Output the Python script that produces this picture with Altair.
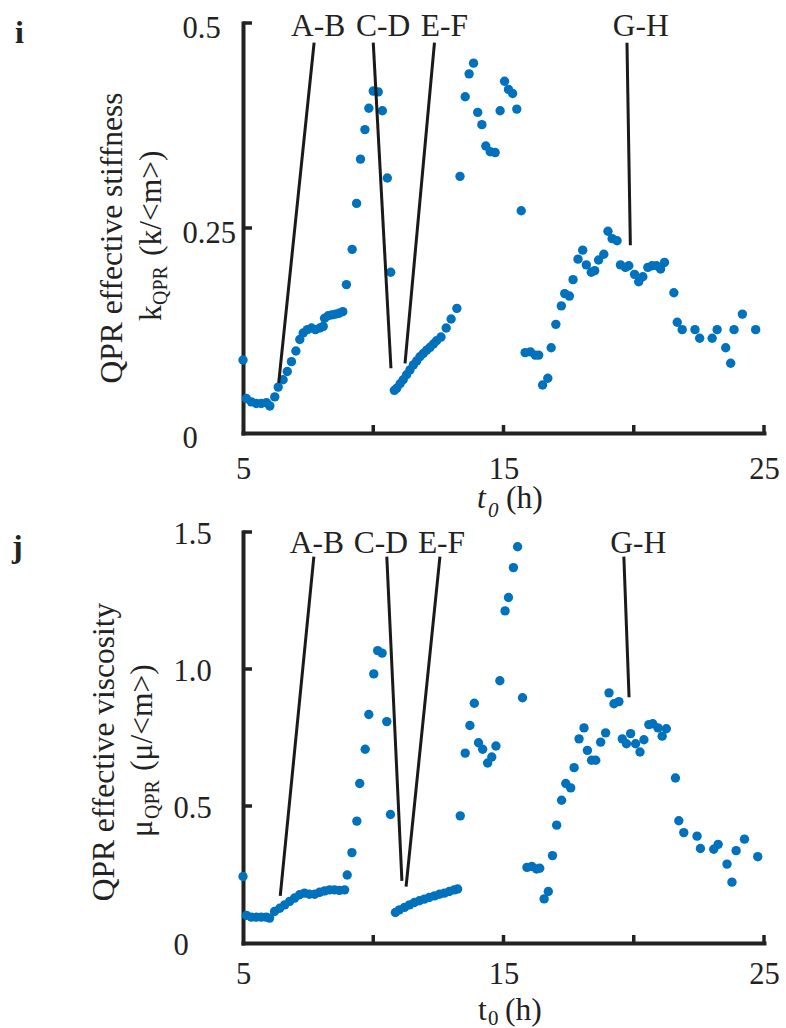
import altair as alt
import pandas as pd

# ---------------- data ----------------
t_k = [5.00, 5.13, 5.32, 5.51, 5.70, 5.90, 6.03, 6.22, 6.35, 6.54, 6.70, 6.86, 7.03, 7.18,
       7.31, 7.47, 7.63, 7.78, 7.95, 8.08, 8.13, 8.27, 8.41, 8.55, 8.69, 8.83, 8.97, 9.19,
       9.36, 9.51, 9.68, 9.83, 10.00, 10.19, 10.35, 10.54, 10.67, 10.81, 10.90, 11.03, 11.15,
       11.28, 11.41, 11.54, 11.67, 11.79, 11.92, 12.05, 12.18, 12.31, 12.43, 12.60, 12.80,
       12.99, 13.21, 13.33, 13.53, 13.68, 13.85, 14.01, 14.17, 14.32, 14.49, 14.68, 14.87,
       15.04, 15.19, 15.35, 15.51, 15.68, 15.83, 16.03, 16.22, 16.35, 16.50, 16.70, 16.83,
       17.01, 17.22, 17.35, 17.53, 17.67, 17.86, 18.04, 18.18, 18.37, 18.50, 18.65, 18.85,
       19.01, 19.17, 19.36, 19.49, 19.68, 19.81, 20.03, 20.19, 20.35, 20.54, 20.70, 20.87,
       21.03, 21.18, 21.54, 21.67, 21.86, 22.35, 22.53, 23.01, 23.20, 23.53, 23.72, 23.85,
       24.17, 24.68]
k_qpr = [0.089, 0.042, 0.038, 0.036, 0.036, 0.037, 0.033, 0.044, 0.056, 0.065, 0.075, 0.087,
         0.100, 0.114, 0.122, 0.126, 0.128, 0.126, 0.128, 0.130, 0.140, 0.143, 0.144, 0.145,
         0.146, 0.148, 0.181, 0.224, 0.280, 0.334, 0.370, 0.396, 0.417, 0.416, 0.393, 0.311,
         0.196, 0.052, 0.0545, 0.060, 0.065, 0.071, 0.077, 0.083, 0.088, 0.093, 0.097, 0.101,
         0.1045, 0.1085, 0.1125, 0.117, 0.128, 0.139, 0.152, 0.313, 0.410, 0.438, 0.451,
         0.391, 0.376, 0.350, 0.343, 0.342, 0.393, 0.429, 0.419, 0.414, 0.395, 0.271, 0.098,
         0.099, 0.095, 0.095, 0.0585, 0.0667, 0.104, 0.1325, 0.155, 0.170, 0.167, 0.187,
         0.212, 0.223, 0.205, 0.196, 0.198, 0.211, 0.218, 0.246, 0.237, 0.2345, 0.205, 0.202,
         0.204, 0.1935, 0.1845, 0.1906, 0.202, 0.204, 0.204, 0.200, 0.208, 0.171, 0.135,
         0.126, 0.126, 0.1155, 0.1155, 0.126, 0.104, 0.085, 0.126, 0.145, 0.126]

t_mu = [5.00, 5.13, 5.32, 5.51, 5.70, 5.89, 6.02, 6.21, 6.41, 6.60, 6.79, 6.98, 7.17, 7.36,
        7.55, 7.75, 7.94, 8.13, 8.32, 8.51, 8.70, 8.90, 9.00, 9.18, 9.37, 9.48, 9.69, 9.83,
        10.02, 10.17, 10.34, 10.52, 10.66, 10.85, 11.00, 11.20, 11.39, 11.58, 11.77, 11.96,
        12.15, 12.35, 12.54, 12.73, 12.92, 13.11, 13.24, 13.34, 13.53, 13.71, 13.88, 14.04,
        14.20, 14.39, 14.55, 14.71, 14.86, 15.06, 15.19, 15.38, 15.54, 15.73, 15.90, 16.09,
        16.27, 16.39, 16.56, 16.72, 16.88, 17.04, 17.23, 17.39, 17.58, 17.71, 17.90, 18.09,
        18.22, 18.38, 18.54, 18.73, 18.92, 19.05, 19.24, 19.43, 19.56, 19.72, 19.88, 20.07,
        20.24, 20.39, 20.58, 20.73, 20.93, 21.09, 21.25, 21.60, 21.73, 21.92, 22.43, 22.56,
        23.07, 23.24, 23.58, 23.77, 23.93, 24.25, 24.76]
mu_qpr = [0.2425, 0.1007, 0.0945, 0.0945, 0.0945, 0.0945, 0.091, 0.115, 0.127, 0.139, 0.152,
          0.164, 0.176, 0.182, 0.178, 0.178, 0.185, 0.190, 0.194, 0.194, 0.192, 0.194, 0.248,
          0.330, 0.445, 0.582, 0.707, 0.834, 0.982, 1.067, 1.058, 0.808, 0.469, 0.1115, 0.121,
          0.130, 0.139, 0.148, 0.154, 0.160, 0.166, 0.172, 0.178, 0.182, 0.188, 0.194, 0.197,
          0.464, 0.693, 0.794, 0.875, 0.731, 0.707, 0.657, 0.679, 0.719, 0.957, 1.212, 1.261,
          1.370, 1.446, 0.895, 0.276, 0.279, 0.270, 0.273, 0.161, 0.188, 0.319, 0.430, 0.521,
          0.582, 0.566, 0.640, 0.745, 0.785, 0.703, 0.667, 0.667, 0.733, 0.767, 0.913, 0.873,
          0.881, 0.745, 0.727, 0.764, 0.727, 0.697, 0.742, 0.797, 0.800, 0.785, 0.755, 0.782,
          0.602, 0.446, 0.403, 0.390, 0.345, 0.342, 0.360, 0.288, 0.222, 0.337, 0.379, 0.315]

x_ticks = [5, 10, 15, 20, 25]
x_tick_labels = ["5", "", "15", "", "25"]
k_ticks = [0, 0.25, 0.5]
k_tick_labels = ["0", "0.25", "0.5"]
mu_ticks = [0, 0.5, 1.0, 1.5]
mu_tick_labels = ["0", "0.5", "1.0", "1.5"]

event_labels = ["A-B", "C-D", "E-F", "G-H"]
# annotation text anchors
k_lab_t = [7.88, 10.38, 12.73, 20.27]
k_lab_v = [0.484, 0.484, 0.484, 0.484]
mu_lab_t = [7.84, 10.29, 12.62, 20.17]
mu_lab_v = [1.425, 1.425, 1.425, 1.425]
# annotation leader lines (top end -> bottom end)
k_line_t1 = [7.73, 10.00, 12.35, 19.74]
k_line_v1 = [0.476, 0.476, 0.476, 0.476]
k_line_t2 = [6.37, 10.68, 11.22, 19.87]
k_line_v2 = [0.061, 0.079, 0.085, 0.229]
mu_line_t1 = [7.72, 10.52, 12.56, 19.62]
mu_line_v1 = [1.41, 1.41, 1.41, 1.41]
mu_line_t2 = [6.43, 11.10, 11.26, 19.82]
mu_line_v2 = [0.172, 0.2265, 0.206, 0.897]

# ---------------- style ----------------
FONT = "Liberation Serif"
INK = "#222222"
BLUE = "#0072BD"
W = 521
H_TOP = 410
H_BOT = 411
FS = 31.5
LFS = 30.5
SFS = 20


def label_expr(values, labels):
    expr = "''"
    for v, l in zip(values, labels):
        expr = f"(abs(datum.value - {v}) < 1e-9) ? '{l}' : ({expr})"
    return expr


def xenc(field, pad):
    return alt.X(field, type="quantitative",
                 scale=alt.Scale(domain=[5, 25], nice=False, zero=False),
                 axis=alt.Axis(values=x_ticks, labelExpr=label_expr(x_ticks, x_tick_labels),
                               ticks=False, grid=False, title=None, domainWidth=4,
                               domainColor=INK, domainCap="square", labelFont=FONT,
                               labelFontSize=LFS, labelColor=INK, labelPadding=pad,
                               labelFlush=False, labelOverlap=False))


def yenc(field, dmax, vals, labs, pad, off):
    return alt.Y(field, type="quantitative",
                 scale=alt.Scale(domain=[0, dmax], nice=False, zero=False),
                 axis=alt.Axis(values=vals, labelExpr=label_expr(vals, labs),
                               ticks=False, grid=False, title=None, domainWidth=4,
                               domainColor=INK, domainCap="square", labelFont=FONT,
                               labelFontSize=LFS, labelColor=INK, labelAlign="left",
                               labelBaseline="middle", labelPadding=pad, labelOffset=off,
                               labelOverlap=False))


ONE = pd.DataFrame({"a": [0]})


def txt(text, x, y, size=FS, angle=0, align="left", baseline="alphabetic",
        style="normal", weight="normal"):
    kw = dict(font=FONT, fontSize=size, color=INK, align=align, baseline=baseline,
              x=x, y=y, fontStyle=style, fontWeight=weight)
    if angle:
        kw["angle"] = angle
    return alt.Chart(ONE).mark_text(**kw).encode(text=alt.value(text))


def panel(t, v, dmax, vals, labs, H, lab_t, lab_v, l_t1, l_v1, l_t2, l_v2,
          xpad, ypad, yoff, extra):
    X = lambda f: xenc(f, xpad)
    Y = lambda f: yenc(f, dmax, vals, labs, ypad, yoff)
    pts = alt.Chart(pd.DataFrame({"t": t, "v": v})).mark_circle(
        size=88, color=BLUE, opacity=1).encode(x=X("t"), y=Y("v"))
    yt = alt.Chart(pd.DataFrame({"yt": vals[1:]})).mark_rule(
        color=INK, strokeWidth=3.5).encode(y=Y("yt"), x=alt.value(0), x2=alt.value(9))
    xt = alt.Chart(pd.DataFrame({"xt": x_ticks[1:]})).mark_rule(
        color=INK, strokeWidth=3.5).encode(x=X("xt"), y=alt.value(H), y2=alt.value(H - 8))
    lines = alt.Chart(pd.DataFrame({"t1": l_t1, "v1": l_v1, "t2": l_t2, "v2": l_v2})).mark_rule(
        color="#1a1a1a", strokeWidth=3).encode(x=X("t1"), y=Y("v1"), x2="t2", y2="v2")
    labels = alt.Chart(pd.DataFrame({"t": lab_t, "v": lab_v, "lab": event_labels})).mark_text(
        font=FONT, fontSize=FS, color=INK, align="center", baseline="alphabetic").encode(
        x=X("t"), y=Y("v"), text="lab:N")
    return alt.layer(pts, yt, xt, lines, labels, *extra).properties(width=W, height=H)


anchor = alt.Chart(ONE).mark_rule(strokeOpacity=0).encode(
    x=alt.value(-243), x2=alt.value(-242), y=alt.value(-23), y2=alt.value(-23))

top_extra = [
    anchor,
    txt("i", -228, 20, size=32, weight="bold"),
    txt("QPR effective stiffness", -121, 215, angle=270, align="center"),
    txt("k", -82, 298, angle=270),
    txt("QPR", -76, 282, size=SFS, angle=270),
    txt("(k/<m>)", -82, 233, angle=270),
    txt("t", 234, 485, style="italic"),
    txt("0", 245, 494, size=SFS + 1, style="italic"),
    txt("(h)", 263, 485),
]
bot_extra = [
    txt("j", -231, 25, size=32, weight="bold"),
    txt("QPR effective viscosity", -129, 220, angle=270, align="center"),
    txt("\u03bc", -91, 305, angle=270),
    txt("QPR", -84, 287, size=SFS, angle=270),
    txt("(\u03bc/<m>)", -91, 239, angle=270),
    txt("t", 235, 488),
    txt("0", 245, 493, size=SFS + 1),
    txt("(h)", 262, 488),
]

top = panel(t_k, k_qpr, 0.5, k_ticks, k_tick_labels, H_TOP, k_lab_t, k_lab_v,
            k_line_t1, k_line_v1, k_line_t2, k_line_v2, 21, 61, 5, top_extra)
bot = panel(t_mu, mu_qpr, 1.5, mu_ticks, mu_tick_labels, H_BOT, mu_lab_t, mu_lab_v,
            mu_line_t1, mu_line_v1, mu_line_t2, mu_line_v2, 16, 70, 2, bot_extra)

chart = alt.vconcat(top, bot, spacing=99, bounds="flush").properties(
    padding=0).configure_view(stroke=None)

chart.save("out.html", embed_options={"renderer": "svg", "actions": False})
